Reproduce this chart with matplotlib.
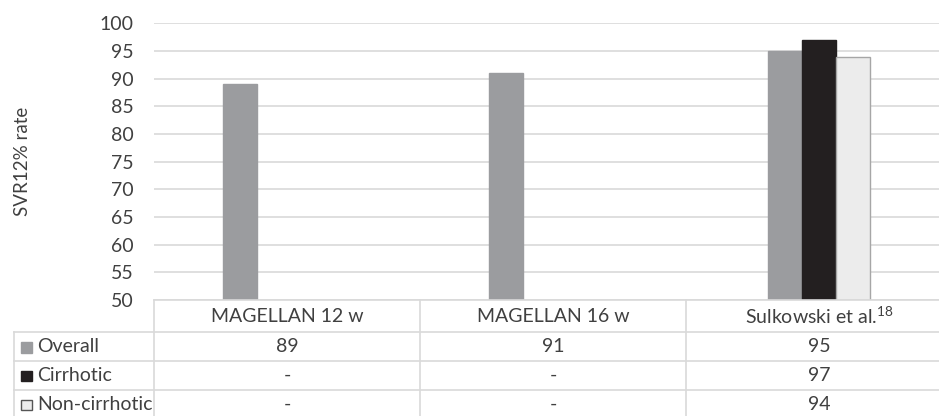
import matplotlib
matplotlib.use('Agg')
import matplotlib.pyplot as plt
from matplotlib.patches import Rectangle

# ---- data ----
categories = ['MAGELLAN 12 w', 'MAGELLAN 16 w', 'Sulkowski et al.$^{\\mathregular{18}}$']
series_names = ['Overall', 'Cirrhotic', 'Non-cirrhotic']
overall = [89, 91, 95]
cirrhotic = [None, None, 97]
non_cirrhotic = [None, None, 94]
y_ticks = [50, 55, 60, 65, 70, 75, 80, 85, 90, 95, 100]
y_label = 'SVR12% rate'

# ---- style ----
FONT = ['Lato', 'DejaVu Sans']
plt.rcParams['font.family'] = FONT
plt.rcParams['mathtext.fontset'] = 'custom'
plt.rcParams['mathtext.rm'] = 'Lato'
TXT = '#404040'
GRID = '#d9d9d9'
colors = ['#9b9c9f', '#231f20', '#ececec']
edges = ['#9b9c9f', '#231f20', '#a6a6a6']
W, H = 939, 416
fig = plt.figure(figsize=(W / 100, H / 100), dpi=100)

# axes geometry in pixels
ax_l, ax_r, ax_t, ax_b = 154.3, 952.0, 23.3, 300.0
ax = fig.add_axes([ax_l / W, 1 - ax_b / H, (ax_r - ax_l) / W, (ax_b - ax_t) / H])
ax.patch.set_alpha(0)
ax.set_xlim(-0.5, len(categories) - 0.5)
ax.set_ylim(y_ticks[0], y_ticks[-1])
ax.set_yticks(y_ticks)
ax.set_yticklabels([str(t) for t in y_ticks])
ax.set_xticks([])
for s in ax.spines.values():
    s.set_visible(False)
ax.tick_params(axis='y', length=0, pad=15, labelsize=14, labelcolor=TXT)
ax.yaxis.grid(True, color=GRID, linewidth=1.2)
ax.set_axisbelow(True)

bw = 0.128
shift = [-0.048, -0.048, 0.0]
all_series = [overall, cirrhotic, non_cirrhotic]
for si, vals in enumerate(all_series):
    xs, hs = [], []
    for ci, v in enumerate(vals):
        if v is not None:
            xs.append(ci + (si - 1) * bw + shift[ci])
            hs.append(v - y_ticks[0])
    ax.bar(xs, hs, width=bw, bottom=y_ticks[0], color=colors[si],
           edgecolor=edges[si], linewidth=1, zorder=3)

fig.text(23 / W, 1 - (ax_t + ax_b) / 2 / H, y_label, rotation=90, ha='center',
         va='center', fontsize=13.5, color=TXT)

# ---- data table (pixel overlay) ----
tax = fig.add_axes([0, 0, 1, 1], zorder=5)
tax.set_xlim(0, W)
tax.set_ylim(H, 0)
tax.axis('off')

fig.canvas.draw()
def xpix(xd):
    return ax.transData.transform((xd, 0))[0]

col_edges = [xpix(c - 0.5) for c in range(len(categories) + 1)]
row_edges = [ax_b, 332.3, 361.3, 390.0, 419.0]
left_edge = 14.0
lw = 1.2
tax.plot([col_edges[0], col_edges[-1]], [row_edges[0]] * 2, color=GRID, lw=lw)
for y in row_edges[1:]:
    tax.plot([left_edge, col_edges[-1]], [y, y], color=GRID, lw=lw)
tax.plot([left_edge, left_edge], [row_edges[1], row_edges[-1]], color=GRID, lw=lw)
for x in col_edges:
    tax.plot([x, x], [row_edges[0], row_edges[-1]], color=GRID, lw=lw)

fs = 14
for ci, cat in enumerate(categories):
    cx = (col_edges[ci] + col_edges[ci + 1]) / 2
    tax.text(cx, (row_edges[0] + row_edges[1]) / 2, cat, ha='center', va='center',
             fontsize=fs, color=TXT)
    for si, vals in enumerate(all_series):
        v = vals[ci]
        tax.text(cx, (row_edges[si + 1] + row_edges[si + 2]) / 2,
                 '-' if v is None else str(v), ha='center', va='center',
                 fontsize=fs, color=TXT)

for si, name in enumerate(series_names):
    cy = (row_edges[si + 1] + row_edges[si + 2]) / 2
    sq = 10.5
    tax.add_patch(Rectangle((21, cy - sq / 2 + 0.5), sq, sq, facecolor=colors[si],
                            edgecolor=('#555555' if si == 2 else colors[si]), lw=1))
    tax.text(37, cy, name, ha='left', va='center', fontsize=fs, color=TXT)

fig.savefig('out.png', dpi=100)
